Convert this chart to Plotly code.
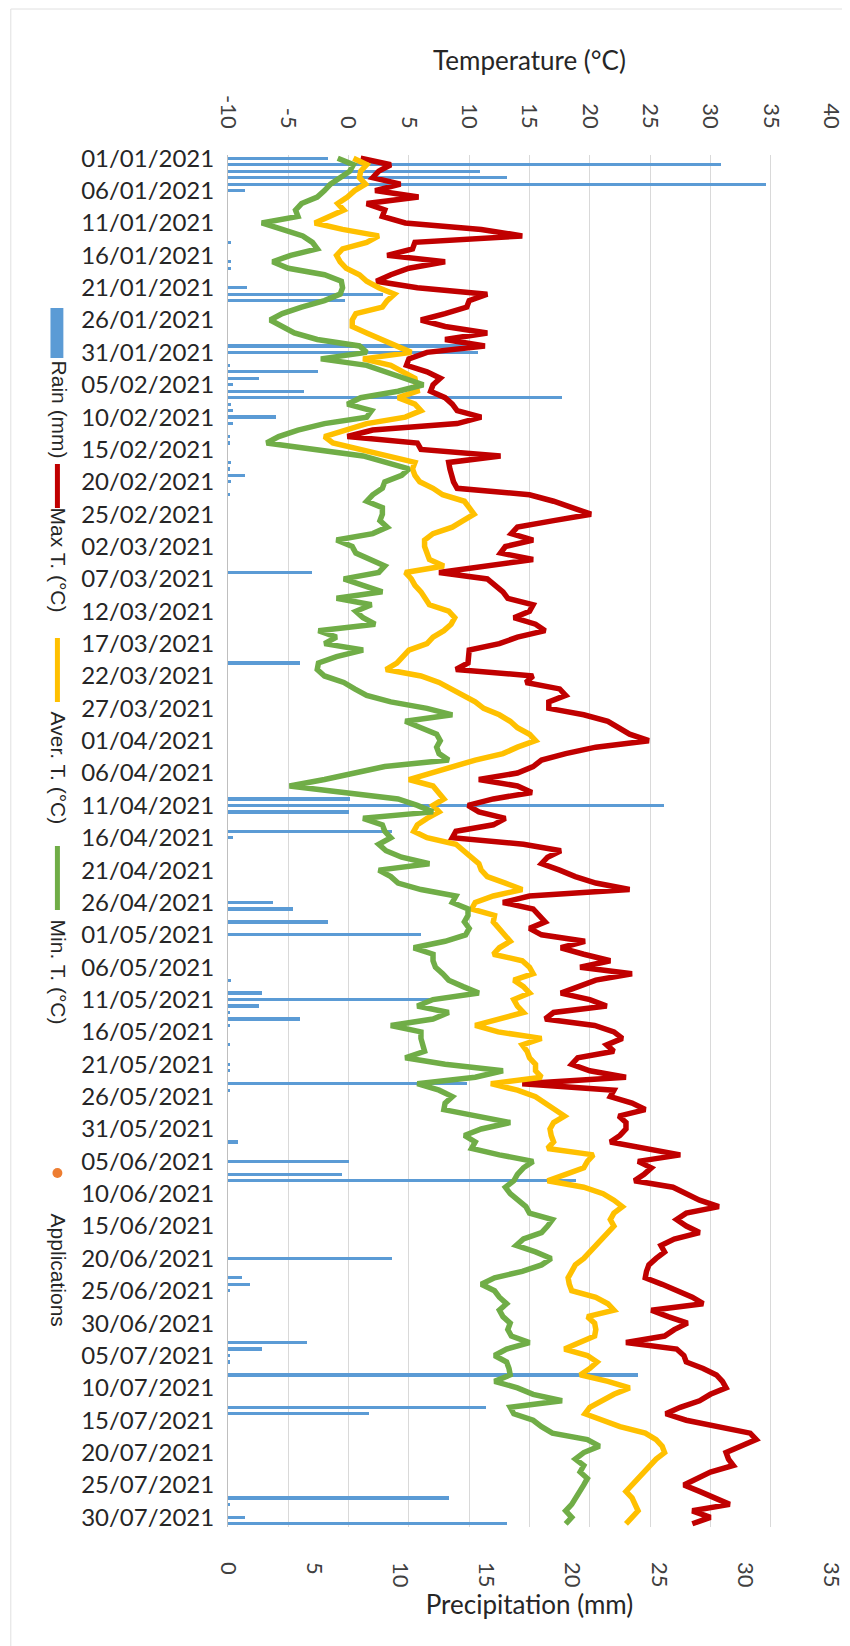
import plotly.graph_objects as go
import pandas as pd

dates = pd.date_range("2021-01-01", "2021-07-31", freq="D")

max_t = [1.0, 3.5, 2.5, 2.0, 4.3, 2.2, 5.8, 1.5, 3.0, 2.8, 4.7, 11.0, 14.4, 5.5, 5.3, 3.2, 8.0, 5.0, 3.5, 2.3, 5.7, 11.5, 10.0, 9.8, 8.0,
         6.0, 8.0, 11.5, 8.0, 11.3, 6.5, 5.0, 4.8, 6.5, 7.6, 7.0, 6.8, 8.0, 8.6, 9.0, 11.0, 9.0, 2.0, -0.1, 5.7, 6.0, 12.6, 8.3,
         8.4, 8.5, 8.7, 9.0, 15.0, 17.0, 18.5, 20.1, 17.0, 14.0, 13.5, 15.3, 13.0, 12.6, 15.3, 11.2, 7.5, 11.5, 12.1, 12.8, 13.2, 15.3, 15.0,
         13.7, 15.5, 16.3, 14.0, 12.5, 10.0, 10.0, 9.9, 8.9, 15.3, 14.7, 17.5, 18.0, 16.6, 16.6, 19.5, 21.5, 22.5, 23.3, 24.9, 20.5, 18.0, 16.0, 15.3,
         14.0, 10.8, 14.0, 15.2, 12.0, 9.9, 10.8, 13.0, 12.0, 8.9, 8.6, 14.5, 17.6, 16.5, 16.0, 17.5, 18.8, 20.5, 23.3, 15.0, 12.8, 15.3,
         15.8, 16.3, 15.0, 16.0, 19.6, 17.6, 19.5, 21.7, 19.2, 23.5, 20.5, 19.0, 17.6, 20.0, 21.4, 17.0, 16.3, 20.4, 22.0, 22.7, 21.4, 22.0, 19.0, 18.5,
         20.0, 23.0, 14.4, 22.0, 21.7, 23.5, 24.6, 22.4, 23.0, 23.0, 22.5, 21.7, 24.5, 27.5, 24.0, 25.1, 24.5, 23.7, 26.9, 28.0, 29.1, 30.7,
         28.0, 27.2, 28.0, 29.1, 27.0, 25.9, 26.2, 25.5, 24.9, 24.7, 24.6, 26.0, 27.2, 28.5, 29.4, 25.1, 26.5, 28.1, 27.0, 26.2, 23.0, 27.2, 27.8,
         28.0, 29.4, 30.5, 31.0, 31.3, 30.0, 29.1, 27.5, 26.3, 28.0, 30.5, 33.3, 33.8, 32.5, 31.3, 31.5, 31.9, 30.0, 29.0, 27.8, 29.1, 30.4, 31.6, 28.5,
         30.0, 28.5]

avg_t = [0.4, 1.5, 1.0, 0.9, 1.4, 0.5, -0.1, -0.9, -0.4, -1.5, -2.8, -0.5, 2.5, 1.5, -0.5, -1.0, -0.7, -0.2, 0.9, 1.5, 2.5, 3.8, 3.2, 2.8, 0.6,
         0.3, 0.3, 1.5, 2.8, 4.0, 5.2, 1.2, 3.5, 4.5, 5.5, 5.6, 5.7, 4.1, 5.5, 6.0, 4.7, 1.5, -0.4, -2.0, -1.3, 1.0, 3.5, 5.5,
         5.3, 5.5, 5.9, 7.0, 7.8, 9.6, 10.0, 10.4, 9.5, 8.6, 7.0, 6.3, 6.3, 6.5, 6.7, 7.9, 4.7, 5.2, 5.5, 6.0, 6.3, 6.7, 8.3, 8.8,
         8.5, 7.9, 7.0, 6.5, 5.0, 4.5, 4.0, 3.1, 6.0, 7.5, 8.5, 9.5, 10.5, 11.2, 12.5, 13.4, 14.0, 15.0, 15.5, 14.0, 12.8, 10.5, 8.6,
         6.5, 5.0, 7.0, 7.5, 7.9, 7.0, 7.5, 6.5, 5.7, 5.4, 6.5, 8.9, 9.5, 10.2, 10.8, 11.0, 11.5, 13.0, 14.4, 12.0, 10.5, 10.2,
         12.1, 12.0, 12.5, 13.0, 13.4, 12.5, 12.0, 14.4, 15.0, 15.3, 13.7, 14.5, 15.0, 13.7, 14.0, 14.5, 12.5, 10.5, 12.4, 16.0, 14.4, 14.8, 15.0, 15.5,
         15.5, 16.0, 11.8, 14.0, 15.5, 16.3, 17.0, 17.9, 17.0, 16.7, 16.8, 17.0, 16.5, 20.3, 19.8, 19.5, 18.0, 16.5, 19.5, 21.1, 22.0, 22.7,
         22.0, 21.7, 22.0, 21.5, 21.1, 20.5, 20.1, 19.5, 18.8, 18.5, 18.2, 18.3, 18.5, 20.5, 21.5, 22.0, 19.8, 20.4, 20.5, 20.4, 19.0, 17.9, 19.8,
         20.6, 20.0, 19.2, 21.5, 23.3, 22.0, 21.1, 20.0, 19.6, 21.0, 22.5, 24.6, 25.5, 26.0, 26.2, 25.5, 25.0, 24.6, 24.0, 23.5, 23.0, 23.5, 23.8, 24.0,
         23.5, 23.0]

min_t = [-0.9, 0.4, 0.1, -0.7, -1.5, -2.0, -2.6, -3.9, -4.4, -4.2, -7.2, -5.5, -3.8, -3.0, -2.6, -4.8, -6.3, -5.0, -2.0, -0.6, -0.5, -0.7, -2.0, -3.9, -5.5,
         -6.5, -5.5, -4.5, -2.6, 0.9, 1.5, -2.3, 1.5, 3.0, 4.4, 6.2, 4.1, 1.0, -0.1, 1.9, 1.5, -2.0, -4.2, -5.8, -6.8, -2.6, 1.2, 3.1,
         5.0, 4.4, 3.0, 2.8, 2.0, 1.5, 2.8, 2.8, 2.6, 3.2, 2.0, -1.0, 0.3, 0.6, 1.9, 3.0, 2.5, -0.4, 1.2, 2.8, -1.0, 1.9, 0.6, 1.2,
         2.2, -2.5, -1.0, -2.0, 1.2, -1.0, -2.5, -2.6, -2.0, -0.4, 0.5, 1.5, 3.5, 6.5, 8.6, 4.7, 6.0, 7.3, 7.6, 7.3, 7.5, 8.3, 3.0,
         0.6, -2.0, -4.9, -0.1, 4.1, 5.7, 7.0, 1.2, 2.8, 3.0, 3.5, 2.5, 3.1, 4.4, 6.7, 2.5, 3.5, 4.1, 6.0, 8.9, 8.6, 9.9,
         9.9, 9.6, 10.0, 9.7, 8.0, 5.4, 7.0, 7.0, 7.2, 7.8, 8.3, 9.5, 10.8, 7.0, 5.7, 8.3, 7.0, 3.5, 6.0, 6.0, 6.2, 6.3, 4.7, 8.0,
         12.8, 10.5, 5.7, 7.5, 8.6, 8.0, 7.9, 10.5, 13.4, 11.0, 9.6, 10.5, 10.2, 12.5, 15.3, 14.5, 14.0, 13.7, 13.0, 13.4, 14.0, 14.7,
         15.0, 16.9, 16.5, 16.0, 14.5, 13.9, 15.5, 16.8, 16.0, 14.4, 12.1, 11.0, 12.1, 12.5, 13.1, 12.5, 12.8, 13.4, 13.2, 13.5, 15.0, 13.1, 12.1,
         13.1, 13.3, 13.4, 12.1, 14.0, 15.3, 17.7, 13.4, 13.7, 15.3, 16.0, 16.9, 19.8, 20.8, 19.5, 18.8, 19.5, 19.2, 19.8, 19.5, 19.2, 18.8, 18.5, 18.0,
         18.5, 18.0]

rain_dates = ["2021-01-01", "2021-01-02", "2021-01-03", "2021-01-04", "2021-01-05", "2021-01-06",
              "2021-01-14", "2021-01-17", "2021-01-18", "2021-01-21", "2021-01-22", "2021-01-23",
              "2021-01-30", "2021-01-31", "2021-02-02", "2021-02-03", "2021-02-04", "2021-02-05",
              "2021-02-06", "2021-02-07", "2021-02-08", "2021-02-09", "2021-02-10", "2021-02-11",
              "2021-02-13", "2021-02-14", "2021-02-17", "2021-02-18", "2021-02-19", "2021-02-20",
              "2021-02-22", "2021-03-06", "2021-03-20", "2021-04-10", "2021-04-11", "2021-04-12",
              "2021-04-15", "2021-04-16", "2021-04-26", "2021-04-27", "2021-04-29", "2021-05-01",
              "2021-05-08", "2021-05-10", "2021-05-11", "2021-05-12", "2021-05-13", "2021-05-14",
              "2021-05-15", "2021-05-18", "2021-05-21", "2021-05-22", "2021-05-24", "2021-05-25",
              "2021-06-02", "2021-06-05", "2021-06-07", "2021-06-08", "2021-06-20", "2021-06-23",
              "2021-06-24", "2021-06-25", "2021-07-03", "2021-07-04", "2021-07-05", "2021-07-06",
              "2021-07-08", "2021-07-13", "2021-07-14", "2021-07-27", "2021-07-28", "2021-07-30",
              "2021-07-31"]
rain_mm = [5.8, 28.6, 14.6, 16.2, 31.2, 1.0,
           0.2, 0.2, 0.2, 1.1, 9.0, 6.8,
           14.8, 14.5, 0.1, 5.2, 1.8, 0.3,
           4.4, 19.4, 0.2, 0.3, 2.8, 0.3,
           0.1, 0.1, 0.2, 0.1, 1.0, 0.2,
           0.1, 4.9, 4.2, 7.1, 25.3, 7.0,
           9.5, 0.3, 2.6, 3.8, 5.8, 11.2,
           0.2, 2.0, 12.1, 1.8, 0.1, 4.2,
           0.1, 0.1, 0.1, 0.1, 13.9, 0.1,
           0.6, 7.0, 6.6, 20.2, 9.5, 0.8,
           1.3, 0.1, 4.6, 2.0, 0.1, 0.1,
           23.8, 15.0, 8.2, 12.8, 0.1, 1.0,
           16.2]

temp_ticks = list(range(-10, 45, 5))
temp_labels = [str(v) for v in temp_ticks]
rain_ticks = list(range(0, 40, 5))

W, H = 850, 1646
L, R, T, B = 220, 828, 147, 1519
PW, PH = R - L, B - T


def px(x):
    return (x - L) / PW


def py(y):
    return (B - y) / PH


RED, YEL, GRN, BLU, ORG = "#C00000", "#FFC000", "#70AD47", "#5B9BD5", "#ED7D31"
FONT = "Lato"

fig = go.Figure()
fig.add_trace(go.Bar(x=rain_mm, y=pd.to_datetime(rain_dates), orientation="h",
                     marker=dict(color=BLU, line=dict(width=0)), width=0.5 * 86400000,
                     xaxis="x", yaxis="y", name="Rain (mm)"))
for vals, col, name in [(max_t, RED, "Max T. (°C)"), (avg_t, YEL, "Aver. T. (°C)"), (min_t, GRN, "Min. T. (°C)")]:
    fig.add_trace(go.Scatter(x=vals, y=dates, mode="lines", line=dict(color=col, width=5.5),
                             xaxis="x2", yaxis="y", name=name))

fig.update_layout(
    width=W, height=H, showlegend=False, plot_bgcolor="white", paper_bgcolor="white",
    margin=dict(l=L, r=W - R, t=T, b=H - B), bargap=0,
    font=dict(family=FONT, color="#404040", size=21),
    xaxis=dict(range=[0, 35], tickvals=rain_ticks, tickangle=90, side="bottom", showgrid=False,
               zeroline=False, showline=False, ticks="", tickfont=dict(size=22, color="#404040"),
               ticklabelstandoff=34,
               title=dict(text="Precipitation (mm)", font=dict(size=26, color="#262626"), standoff=6)),
    xaxis2=dict(range=[-10, 40], tickvals=temp_ticks, ticktext=temp_labels, tickangle=90, side="top",
                overlaying="x", showgrid=True, gridcolor="#d9d9d9", gridwidth=1, zeroline=False,
                showline=False, ticks="", tickfont=dict(size=22, color="#404040"), ticklabelstandoff=22,
                title=dict(text="Temperature (°C)", font=dict(size=26, color="#262626"), standoff=16)),
    yaxis=dict(type="date", range=["2021-07-31T12:00", "2020-12-31T12:00"], tick0="2021-01-01",
               dtick=5 * 86400000, tickformat="%d/%m/%Y", showgrid=False, zeroline=False,
               showline=True, linecolor="#bfbfbf", linewidth=1, ticks="",
               tickfont=dict(size=24, color="#262626"), ticklabelstandoff=8),
)

# legend (rotated, drawn on the left side)
shapes = [dict(type="rect", xref="paper", yref="paper", x0=px(1), x1=px(849), y0=py(1), y1=py(1645),
               line=dict(color="#e0e0e0", width=1), fillcolor="rgba(0,0,0,0)", layer="below")]
shapes.append(dict(type="rect", xref="paper", yref="paper", x0=px(41), x1=px(54), y0=py(300), y1=py(350),
                   fillcolor=BLU, line=dict(width=0)))
for col, y0, y1 in [(RED, 456, 500), (YEL, 630, 694), (GRN, 838, 902)]:
    shapes.append(dict(type="line", xref="paper", yref="paper", x0=px(48), x1=px(48), y0=py(y0), y1=py(y1),
                       line=dict(color=col, width=5)))
shapes.append(dict(type="circle", xref="paper", yref="paper", x0=px(43), x1=px(53), y0=py(1160), y1=py(1170),
                   fillcolor=ORG, line=dict(width=0)))
fig.update_layout(shapes=shapes)

ann = []
for txt, yc in [("Rain (mm)", 402), ("Max T. (°C)", 552), ("Aver. T. (°C)", 760),
                ("Min. T. (°C)", 964), ("Applications", 1262)]:
    ann.append(dict(text=txt, xref="paper", yref="paper", x=px(50), y=py(yc), textangle=90,
                    showarrow=False, font=dict(family="Liberation Sans", size=21, color="#262626"),
                    xanchor="center", yanchor="middle"))
fig.update_layout(annotations=ann)

fig.write_html("out.html")
